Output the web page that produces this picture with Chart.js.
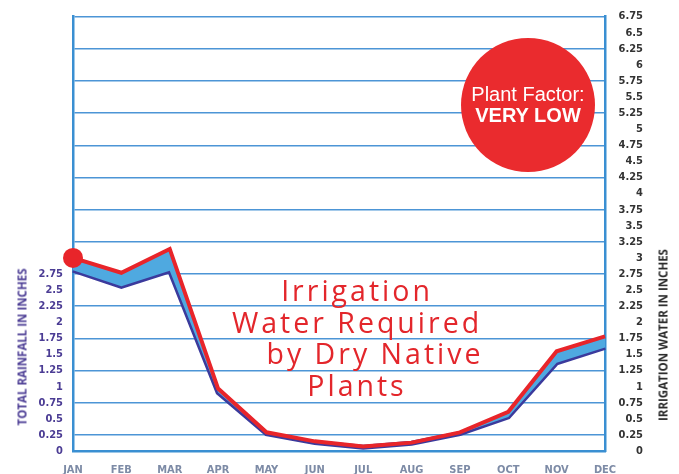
<!DOCTYPE html>
<html>
<head>
<meta charset="utf-8">
<script src="https://cdn.jsdelivr.net/npm/chart.js@4.4.1/dist/chart.umd.min.js"></script>
<style>
  body { margin: 0; background: #fff; }
  #wrap { position: relative; width: 679px; height: 474px; overflow: hidden; }
  .vtitle {
    position: absolute; white-space: nowrap; font-family: "Open Sans", sans-serif;
    font-weight: 700; font-size: 11.5px; transform: translate(-50%, -50%) rotate(-90deg);
  }
  #note {
    position: absolute; left: 207px; top: 275px; width: 300px; text-align: center;
    font-family: "Open Sans", sans-serif; font-size: 28.5px; line-height: 31.5px;
    letter-spacing: 3px; color: #e3262b;
  }
  #badge {
    position: absolute; left: 461px; top: 38px; width: 134px; height: 134px;
    border-radius: 50%; background: #ea2b2e; color: #fff; text-align: center;
    font-family: "Liberation Sans", Arial, sans-serif; font-size: 20px; line-height: 21px;
    display: flex; flex-direction: column; justify-content: center;
  }
</style>
</head>
<body>
<div id="wrap">
  <canvas id="chart"></canvas>
  <div class="vtitle" style="left:22px; top:347px; color:#4b3c94;">TOTAL RAINFALL IN INCHES</div>
  <div class="vtitle" style="left:663px; top:335px; color:#2a2a2a;">IRRIGATION WATER IN INCHES</div>
  <div id="note">Irrigation<br>Water Required<br><span style="padding-left:36px">by Dry Native</span><br>Plants</div>
  <div id="badge"><div>Plant Factor:</div><div style="font-weight:700">VERY LOW</div></div>
</div>
<script>
document.addEventListener('DOMContentLoaded', () => {
    const months = ['JAN', 'FEB', 'MAR', 'APR', 'MAY', 'JUN', 'JUL', 'AUG', 'SEP', 'OCT', 'NOV', 'DEC'];
    // eau d'irrigation (ligne rouge) et pluie totale (ligne bleu foncé)
    const irrigationWater = [3.0, 2.77, 3.14, 0.97, 0.29, 0.15, 0.07, 0.13, 0.29, 0.61, 1.55, 1.78];
    const totalRainfall = [2.81, 2.56, 2.80, 0.91, 0.27, 0.13, 0.06, 0.12, 0.27, 0.53, 1.37, 1.61];
    const leftMaxLabel = 2.75;
    const axisMax = 6.75;

    const frameBlue = '#3a8fd2';
    const gridBlue = '#4c95d6';

    const ctx = document.getElementById('chart').getContext('2d');

    new Chart(ctx, {
        type: 'line',
        data: {
            labels: months,
            datasets: [{
                label: 'Irrigation',
                data: irrigationWater,
                borderColor: '#e8252a',
                borderWidth: 4,
                backgroundColor: '#e8252a',
                pointRadius: c => c.dataIndex === 0 ? 10 : 0,
                pointBorderWidth: 0,
                fill: { target: '+1', above: '#4fa9e0', below: '#4fa9e0' },
                tension: 0
            }, {
                label: 'Rainfall',
                data: totalRainfall,
                borderColor: '#3b3a9c',
                borderWidth: 5,
                pointRadius: 0,
                fill: false,
                tension: 0
            }]
        },
        options: {
            responsive: true,
            maintainAspectRatio: false,
            animation: false,
            layout: { padding: { top: 16, right: 36 } },
            plugins: { legend: { display: false }, tooltip: { enabled: false } },
            scales: {
                x: {
                    offset: false,
                    grid: { display: false },
                    border: { display: true, color: frameBlue, width: 2.5 },
                    ticks: {
                        color: '#7d8ba6', padding: 5, maxRotation: 0, autoSkip: false,
                        font: { family: 'DejaVu Sans Condensed', size: 11, weight: 'bold' }
                    },
                    afterFit: s => { s.height = 23; }
                },
                y: {
                    position: 'left',
                    min: 0,
                    max: axisMax,
                    grid: {
                        drawTicks: false,
                        lineWidth: 1.5,
                        color: c => (Math.round(c.tick.value * 4) % 2 === 1) ? gridBlue : 'rgba(0,0,0,0)'
                    },
                    border: { display: true, color: frameBlue, width: 2.5 },
                    ticks: {
                        stepSize: 0.25, autoSkip: false, padding: 10, color: '#4b3c94',
                        font: { family: 'DejaVu Sans Condensed', size: 11, weight: 'bold' },
                        callback: v => v <= leftMaxLabel ? String(v) : ''
                    },
                    afterFit: s => { s.width = 73; }
                },
                y2: {
                    position: 'right',
                    min: 0,
                    max: axisMax,
                    grid: { display: false, drawTicks: false },
                    border: { display: true, color: frameBlue, width: 2.5 },
                    ticks: {
                        stepSize: 0.25, autoSkip: false, padding: 9, crossAlign: 'far', color: '#333',
                        font: { family: 'DejaVu Sans Condensed', size: 11, weight: 'bold' },
                        callback: v => String(v)
                    },
                    afterFit: s => { s.width = 38; }
                }
            }
        }
    });
});
</script>
</body>
</html>
